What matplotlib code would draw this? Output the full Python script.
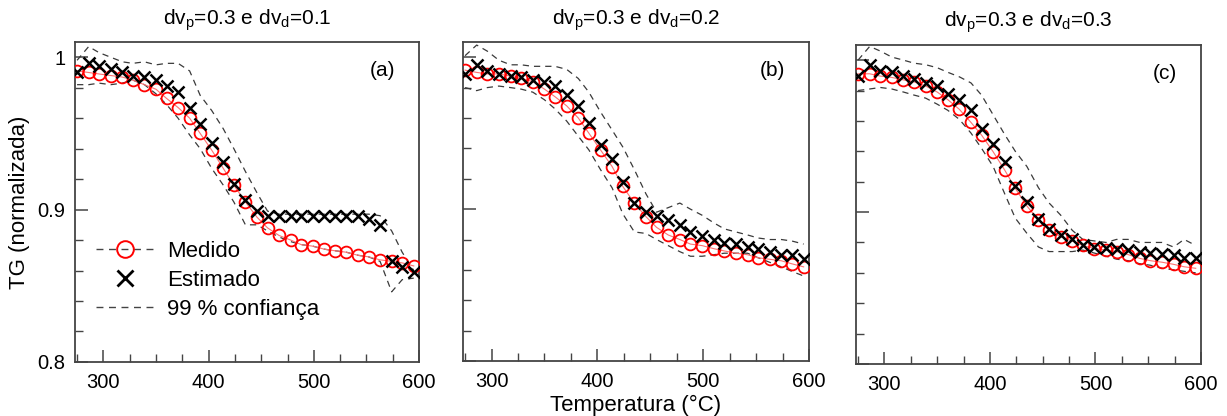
import numpy as np
import matplotlib
matplotlib.use("Agg")
import matplotlib.pyplot as plt
from matplotlib.lines import Line2D
from matplotlib.ticker import MultipleLocator, FuncFormatter

plt.rcParams['font.family'] = ['Liberation Sans', 'DejaVu Sans']
plt.rcParams['mathtext.fontset'] = 'custom'
plt.rcParams['mathtext.rm'] = 'Liberation Sans'

# temperatura (C)
temps = [275, 286, 296, 307, 318, 328, 339, 350, 360, 371, 382, 392, 403, 414, 424, 435,
         446, 456, 467, 478, 488, 499, 510, 520, 531, 542, 552, 563, 574, 584, 595]

# (a) dvp=0.3 e dvd=0.1
a_med = [0.991, 0.990, 0.989, 0.988, 0.987, 0.985, 0.982, 0.979, 0.973, 0.967, 0.960, 0.950, 0.939, 0.927, 0.916, 0.905,
         0.895, 0.888, 0.883, 0.880, 0.877, 0.876, 0.874, 0.873, 0.872, 0.870, 0.869, 0.867, 0.866, 0.865, 0.863]
a_est = [0.990, 0.996, 0.994, 0.992, 0.990, 0.988, 0.987, 0.985, 0.981, 0.977, 0.967, 0.956, 0.944, 0.931, 0.917, 0.906,
         0.899, 0.896, 0.8955, 0.8955, 0.8955, 0.8955, 0.8955, 0.8955, 0.8955, 0.8955, 0.894, 0.890, 0.866, 0.862, 0.859]
a_up = [0.998, 1.007, 1.003, 1.000, 0.997, 0.996, 0.997, 0.995, 0.996, 0.996, 0.991, 0.975, 0.965, 0.953, 0.940, 0.925,
        0.911, 0.899, 0.897, 0.897, 0.897, 0.897, 0.897, 0.897, 0.897, 0.897, 0.897, 0.896, 0.886, 0.872, 0.860]
a_lo = [0.982, 0.982, 0.983, 0.982, 0.983, 0.985, 0.982, 0.976, 0.969, 0.960, 0.949, 0.940, 0.927, 0.916, 0.905, 0.890,
        0.890, 0.886, 0.882, 0.879, 0.877, 0.876, 0.874, 0.873, 0.872, 0.870, 0.869, 0.866, 0.846, 0.854, 0.855]

# (b) dvp=0.3 e dvd=0.2
b_med = [0.9915, 0.990, 0.989, 0.989, 0.9875, 0.986, 0.984, 0.979, 0.974, 0.968, 0.960, 0.950, 0.939, 0.928, 0.915, 0.904,
         0.895, 0.888, 0.883, 0.880, 0.877, 0.876, 0.874, 0.8725, 0.871, 0.870, 0.868, 0.867, 0.866, 0.864, 0.862]
b_est = [0.989, 0.995, 0.991, 0.989, 0.9875, 0.987, 0.985, 0.984, 0.981, 0.975, 0.968, 0.957, 0.942, 0.933, 0.918, 0.904,
         0.898, 0.8955, 0.893, 0.8895, 0.885, 0.882, 0.880, 0.878, 0.877, 0.875, 0.8735, 0.872, 0.870, 0.870, 0.8675]
b_up = [1.001, 1.008, 1.004, 0.998, 0.995, 0.995, 0.994, 0.994, 0.994, 0.992, 0.986, 0.977, 0.964, 0.952, 0.941, 0.926,
        0.910, 0.898, 0.901, 0.904, 0.900, 0.896, 0.891, 0.887, 0.885, 0.883, 0.881, 0.880, 0.880, 0.879, 0.877]
b_lo = [0.980, 0.978, 0.980, 0.981, 0.980, 0.979, 0.977, 0.972, 0.966, 0.958, 0.948, 0.939, 0.926, 0.914, 0.897, 0.885,
        0.884, 0.880, 0.876, 0.872, 0.869, 0.869, 0.870, 0.871, 0.871, 0.871, 0.868, 0.865, 0.862, 0.859, 0.856]

# (c) dvp=0.3 e dvd=0.3
c_med = [0.991, 0.991, 0.9895, 0.9886, 0.987, 0.9857, 0.983, 0.979, 0.974, 0.9676, 0.959, 0.9507, 0.9397, 0.9276, 0.9156, 0.904,
         0.8947, 0.888, 0.8838, 0.881, 0.878, 0.876, 0.875, 0.874, 0.872, 0.8695, 0.868, 0.867, 0.8656, 0.864, 0.863]
c_est = [0.9895, 0.997, 0.993, 0.992, 0.9895, 0.9873, 0.9847, 0.983, 0.978, 0.9737, 0.967, 0.9544, 0.9447, 0.933, 0.917, 0.9068,
         0.8952, 0.889, 0.8849, 0.882, 0.878, 0.8768, 0.8762, 0.8755, 0.875, 0.874, 0.8728, 0.8724, 0.8717, 0.8695, 0.8695]
c_up = [1.000, 1.009, 1.006, 1.002, 1.000, 0.998, 0.997, 0.995, 0.992, 0.989, 0.985, 0.977, 0.964, 0.951, 0.940, 0.930,
        0.916, 0.906, 0.898, 0.888, 0.882, 0.881, 0.880, 0.882, 0.882, 0.880, 0.880, 0.880, 0.877, 0.882, 0.878]
c_lo = [0.980, 0.981, 0.982, 0.981, 0.979, 0.977, 0.975, 0.971, 0.967, 0.961, 0.952, 0.942, 0.930, 0.912, 0.896, 0.886,
        0.877, 0.874, 0.874, 0.874, 0.875, 0.873, 0.871, 0.869, 0.868, 0.866, 0.865, 0.863, 0.862, 0.861, 0.860]

titles = ['dv$_\\mathregular{p}$=0.3 e dv$_\\mathregular{d}$=0.1',
          'dv$_\\mathregular{p}$=0.3 e dv$_\\mathregular{d}$=0.2',
          'dv$_\\mathregular{p}$=0.3 e dv$_\\mathregular{d}$=0.3']
tags = ['(a)', '(b)', '(c)']

panels = [(a_med, a_est, a_up, a_lo), (b_med, b_est, b_up, b_lo), (c_med, c_est, c_up, c_lo)]
boxes = [[0.0611, 0.130, 0.2804, 0.769],
         [0.3773, 0.132, 0.2820, 0.767],
         [0.6976, 0.125, 0.2812, 0.767]]

fig = plt.figure(figsize=(12.27, 4.16), dpi=100)
dash = (0, (5, 4))
axc = '#444444'

for i in range(3):
    med, est, up, lo = panels[i]
    ax = fig.add_axes(boxes[i])
    ax.plot(temps, up, color='#3a3a3a', lw=0.9, ls=dash, zorder=2)
    ax.plot(temps, lo, color='#3a3a3a', lw=0.9, ls=dash, zorder=2)
    ax.plot(temps, med, color='#ff7070', lw=0.8, zorder=3)
    ax.plot(temps, med, ls='none', marker='o', ms=8.5, mfc='none', mec='red', mew=1.3, zorder=4)
    ax.plot(temps, est, ls='none', marker='x', ms=9, mec='black', mew=1.8, zorder=5)

    ax.set_xlim(273, 600)
    ax.set_ylim(0.8, 1.01)
    ax.xaxis.set_major_locator(MultipleLocator(100))
    ax.xaxis.set_minor_locator(MultipleLocator(25))
    ax.yaxis.set_major_locator(MultipleLocator(0.1))
    ax.yaxis.set_minor_locator(MultipleLocator(0.02))
    ax.yaxis.set_major_formatter(FuncFormatter(lambda v, p: f'{v:g}'))
    ax.tick_params(which='both', direction='in', top=False, right=False, color=axc, labelsize=14.5)
    ax.tick_params(which='major', length=9, width=1.1)
    ax.tick_params(which='minor', length=5.5, width=1.0)
    ax.tick_params(axis='x', pad=8)
    ax.tick_params(axis='y', pad=7)
    if i > 0:
        ax.tick_params(axis='y', labelleft=False)
    for s in ax.spines.values():
        s.set_color(axc)
        s.set_linewidth(1.3)

    ax.set_title(titles[i], fontsize=15, pad=13)
    ax.text(0.93, 0.91, tags[i], transform=ax.transAxes, fontsize=15, ha='right', va='center')

    if i == 0:
        handles = [Line2D([], [], color='#444444', lw=1, ls=dash, marker='o', ms=12, mfc='none', mec='red', mew=1.4),
                   Line2D([], [], ls='none', marker='x', ms=12, mec='black', mew=2),
                   Line2D([], [], color='#444444', lw=1, ls=dash)]
        ax.legend(handles, ['Medido', 'Estimado', '99 % confiança'], loc='center left',
                  bbox_to_anchor=(0.06, 0.255), frameon=False, fontsize=16,
                  handlelength=2.6, handletextpad=0.6, labelspacing=0.35,
                  borderpad=0, borderaxespad=0)

fig.text(20 / 1227, 1 - 202 / 416, 'TG (normalizada)', rotation=90, fontsize=16, ha='center', va='center')
fig.text(636 / 1227, 1 - 405 / 416, 'Temperatura (°C)', fontsize=16, ha='center', va='center')

fig.savefig('out.png', dpi=100)
